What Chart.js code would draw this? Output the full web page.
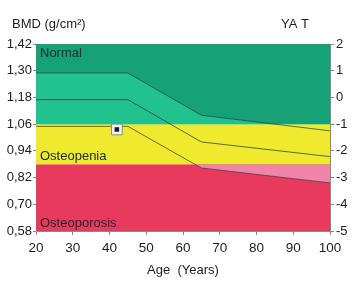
<!DOCTYPE html>
<html>
<head>
<meta charset="utf-8">
<script src="https://cdn.jsdelivr.net/npm/chart.js@4.4.1/dist/chart.umd.min.js"></script>
<style>
  html, body { margin: 0; padding: 0; background: #ffffff; }
  #wrap { width: 353px; height: 294px; position: relative; }
</style>
</head>
<body>
<div id="wrap"><canvas id="c" width="353" height="294"></canvas></div>
<script>
// ---- data ----
const ages = [20, 45, 65, 100];
const upperSD = [1.29, 1.29, 1.10, 1.03];
const meanBMD = [1.17, 1.17, 0.98, 0.914];
const lowerSD = [1.05, 1.05, 0.863, 0.796];
const patientAge = [42];
const patientBMD = [1.036];
const bmdTicks = [0.58, 0.70, 0.82, 0.94, 1.06, 1.18, 1.30, 1.42];
const tScoreTicks = [-5, -4, -3, -2, -1, 0, 1, 2];
const ageTicks = [20, 30, 40, 50, 60, 70, 80, 90, 100];
const zoneLimits = [0.58, 0.88, 1.06, 1.42]; // osteoporosis | osteopenia | normal
const zoneNames = ["Osteoporosis", "Osteopenia", "Normal"];

const FONT = "'Liberation Sans', Arial, sans-serif";
const TXT = '#1e1e1e';

const pts = (xs, ys) => xs.map((x, i) => ({ x, y: ys[i] }));
const flat = v => [{ x: ageTicks[0], y: v }, { x: ageTicks[ageTicks.length - 1], y: v }];

const datasets = [
  // zones
  { data: flat(zoneLimits[3]), fill: { target: { value: zoneLimits[2] } }, backgroundColor: '#16a177', borderWidth: 0, pointRadius: 0, order: 20 },
  { data: flat(zoneLimits[2]), fill: { target: { value: zoneLimits[1] } }, backgroundColor: '#efea2e', borderWidth: 0, pointRadius: 0, order: 20 },
  { data: flat(zoneLimits[1]), fill: { target: { value: zoneLimits[0] } }, backgroundColor: '#e83a5c', borderWidth: 0, pointRadius: 0, order: 20 },
  // reference band shading
  { data: pts(ages, upperSD), fill: { target: { value: zoneLimits[2] }, above: '#22c28e', below: 'rgba(0,0,0,0)' },
    borderColor: 'rgba(40,70,60,0.75)', borderWidth: 1, pointRadius: 0, tension: 0, order: 10 },
  { data: pts(ages, lowerSD), fill: { target: { value: zoneLimits[1] }, above: 'rgba(0,0,0,0)', below: '#ef86aa' },
    borderColor: 'rgba(70,60,60,0.75)', borderWidth: 1, pointRadius: 0, tension: 0, order: 10 },
  { data: pts(ages, meanBMD), fill: false,
    borderColor: 'rgba(50,60,55,0.75)', borderWidth: 1, pointRadius: 0, tension: 0, order: 9 },
  // patient marker
  { type: 'scatter', data: pts(patientAge, patientBMD), pointStyle: 'rect', pointRadius: 3.2,
    backgroundColor: '#1a1a28', borderColor: '#1a1a28', borderWidth: 0, order: 0 },
  { type: 'scatter', data: pts(patientAge, patientBMD), pointStyle: 'rect', pointRadius: 7.6,
    backgroundColor: '#f2f2f2', borderColor: '#8a8a8a', borderWidth: 1, order: 1 }
];

const textPlugin = {
  id: 'texts',
  afterDatasetsDraw(chart) {
    const { ctx, scales } = chart;
    const x = scales.x, y = scales.y;
    ctx.save();
    ctx.fillStyle = '#1c2a30';
    ctx.font = '13px ' + FONT;
    ctx.textAlign = 'left';
    ctx.textBaseline = 'middle';
    const lx = x.getPixelForValue(ageTicks[0]) + 4;
    ctx.fillText(zoneNames[2], lx, y.getPixelForValue(zoneLimits[3]) + 9);
    ctx.fillText(zoneNames[1], lx, y.getPixelForValue(zoneLimits[1]) - 8);
    ctx.fillText(zoneNames[0], lx, y.getPixelForValue(zoneLimits[0]) - 8);
    ctx.restore();
  },
  afterDraw(chart) {
    const { ctx } = chart;
    ctx.save();
    ctx.fillStyle = TXT;
    ctx.font = '13px ' + FONT;
    ctx.textBaseline = 'middle';
    ctx.textAlign = 'left';
    ctx.fillText('BMD (g/cm²)', 12, 24);
    ctx.fillText('YA T', 281, 24);
    ctx.textAlign = 'center';
    ctx.fillText('Age  (Years)', 183, 270);
    ctx.restore();
  }
};

new Chart(document.getElementById('c'), {
  type: 'line',
  data: { datasets },
  plugins: [textPlugin],
  options: {
    responsive: false,
    animation: false,
    events: [],
    layout: { padding: { top: 44, left: 0, right: 0, bottom: 0 } },
    plugins: { legend: { display: false }, tooltip: { enabled: false } },
    scales: {
      x: {
        type: 'linear', min: 20, max: 100,
        afterBuildTicks: s => { s.ticks = ageTicks.map(v => ({ value: v })); },
        afterFit: s => { s.height = 63; },
        grid: { drawOnChartArea: false, drawTicks: true, tickLength: 4, color: '#888' },
        border: { display: true, color: '#8a8a8a' },
        ticks: { color: TXT, font: { family: FONT, size: 13.5 }, padding: 5, maxRotation: 0 }
      },
      y: {
        position: 'left', min: 0.58, max: 1.42,
        afterBuildTicks: s => { s.ticks = bmdTicks.map(v => ({ value: v })); },
        afterFit: s => { s.width = 36; },
        grid: { drawOnChartArea: false, tickLength: 3, color: '#888' },
        border: { display: true, color: '#bbbbbb' },
        ticks: { color: TXT, font: { family: FONT, size: 13 }, padding: 1,
                 callback: v => v.toFixed(2).replace('.', ',') }
      },
      y2: {
        position: 'right', min: -5, max: 2,
        afterBuildTicks: s => { s.ticks = tScoreTicks.map(v => ({ value: v })); },
        afterFit: s => { s.width = 23; },
        grid: { drawOnChartArea: false, tickLength: 4, color: '#888' },
        border: { display: true, color: '#8a8a8a' },
        ticks: { color: TXT, font: { family: FONT, size: 13 }, padding: 2,
                 callback: v => String(v) }
      }
    }
  }
});
</script>
</body>
</html>
